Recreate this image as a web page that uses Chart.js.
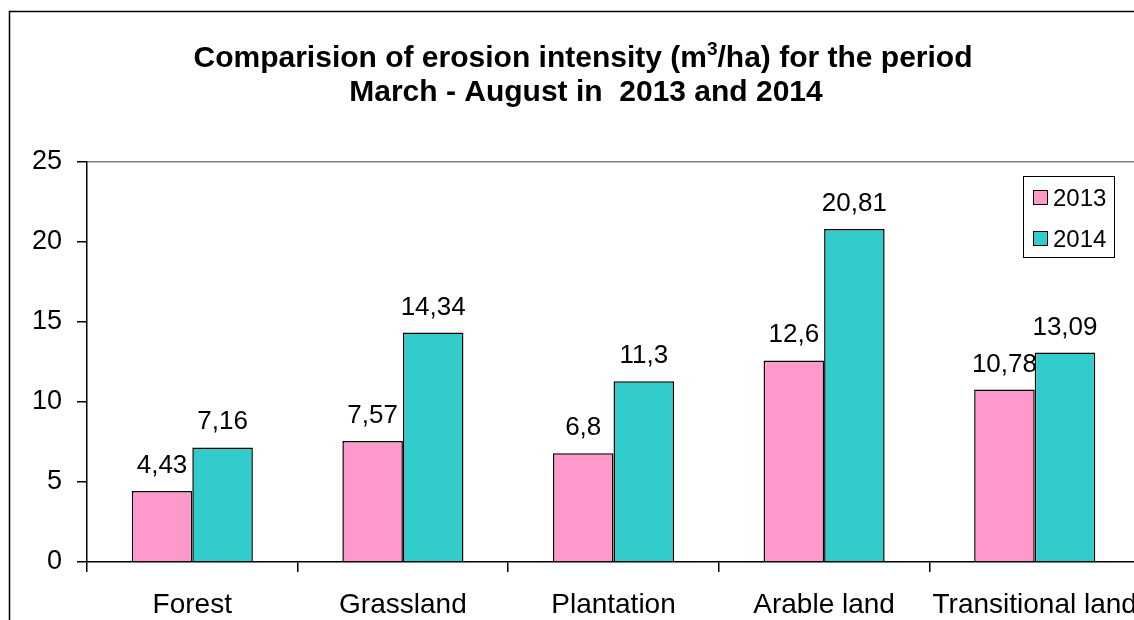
<!DOCTYPE html>
<html>
<head>
<meta charset="utf-8">
<script src="https://cdn.jsdelivr.net/npm/chart.js@4.4.1/dist/chart.umd.min.js"></script>
<style>
    html, body { margin: 0; padding: 0; background: #fff; overflow: hidden; }
    #wrap { position: absolute; left: 0; top: 0; width: 1170px; height: 640px; }
</style>
</head>
<body>
<div id="wrap"><canvas id="erosion_chart" width="1170" height="640"></canvas></div>
<script>
'use strict';

const categories = ['Forest', 'Grassland', 'Plantation', 'Arable land', 'Transitional land'];
const values_2013 = [4.43, 7.57, 6.8, 12.6, 10.78];
const values_2014 = [7.16, 14.34, 11.3, 20.81, 13.09];
const series_names = ['2013', '2014'];
const y_ticks = [0, 5, 10, 15, 20, 25];

const FONT = "'Liberation Sans', Arial, sans-serif";

function fmt_value(v) {
    return String(v).replace('.', ',');
}

// outer frame + title with superscript
const frame_and_title = {
    id: 'frame_and_title',
    beforeDraw(chart) {
        let ctx = chart.ctx;
        ctx.save();
        ctx.fillStyle = '#fff';
        ctx.fillRect(0, 0, chart.width, chart.height);
        ctx.strokeStyle = '#000';
        ctx.lineWidth = 1.5;
        ctx.strokeRect(9.5, 11.5, chart.width + 20, chart.height + 20);
        ctx.restore();
    },
    afterDraw(chart) {
        let ctx = chart.ctx;
        ctx.save();
        ctx.fillStyle = '#000';
        ctx.textBaseline = 'alphabetic';
        let big = 'bold 30px ' + FONT;
        let small = 'bold 19px ' + FONT;
        let p1 = 'Comparision of erosion intensity (m';
        let p2 = '3';
        let p3 = '/ha) for the period';
        ctx.font = big;
        let w1 = ctx.measureText(p1).width;
        let w3 = ctx.measureText(p3).width;
        ctx.font = small;
        let w2 = ctx.measureText(p2).width;
        let x = 583 - (w1 + w2 + w3) / 2;
        ctx.font = big;
        ctx.fillText(p1, x, 67);
        ctx.font = small;
        ctx.fillText(p2, x + w1, 55);
        ctx.font = big;
        ctx.fillText(p3, x + w1 + w2, 67);
        ctx.textAlign = 'center';
        ctx.fillText('March - August in  2013 and 2014', 586, 101);
        ctx.restore();
    }
};

// value labels above the bars
const bar_labels = {
    id: 'bar_labels',
    afterDatasetsDraw(chart) {
        let ctx = chart.ctx;
        ctx.save();
        ctx.font = '26px ' + FONT;
        ctx.fillStyle = '#000';
        ctx.textAlign = 'center';
        ctx.textBaseline = 'alphabetic';
        chart.data.datasets.forEach(function (ds, di) {
            let meta = chart.getDatasetMeta(di);
            meta.data.forEach(function (bar, i) {
                ctx.fillText(fmt_value(ds.data[i]), bar.x, bar.y - 18);
            });
        });
        ctx.restore();
    }
};

// boxed legend inside the plot area
const boxed_legend = {
    id: 'boxed_legend',
    afterDraw(chart) {
        let ctx = chart.ctx;
        ctx.save();
        ctx.strokeStyle = '#000';
        ctx.lineWidth = 1;
        ctx.fillStyle = '#fff';
        ctx.fillRect(1023.5, 176.5, 91, 81);
        ctx.strokeRect(1023.5, 176.5, 91, 81);
        ctx.font = '24px ' + FONT;
        ctx.textBaseline = 'middle';
        chart.data.datasets.forEach(function (ds, di) {
            let y = 198 + di * 41;
            ctx.fillStyle = ds.backgroundColor;
            ctx.fillRect(1033.5, y - 7.5, 14, 14);
            ctx.strokeRect(1033.5, y - 7.5, 14, 14);
            ctx.fillStyle = '#000';
            ctx.fillText(ds.label, 1053, y + 1);
        });
        ctx.restore();
    }
};

let canvas = document.getElementById('erosion_chart').getContext('2d');
let myChart = new Chart(canvas, {
    type: 'bar',
    data: {
        labels: categories,
        datasets: [
            {
                label: series_names[0],
                data: values_2013,
                backgroundColor: '#FF99CC',
                borderColor: '#000',
                borderWidth: 1.5,
            },
            {
                label: series_names[1],
                data: values_2014,
                backgroundColor: '#33CCCC',
                borderColor: '#000',
                borderWidth: 1.5,
            }
        ]
    },
    plugins: [frame_and_title, bar_labels, boxed_legend],
    options: {
        responsive: false,
        animation: false,
        events: [],
        layout: {
            padding: {top: 162, right: 30, left: 0, bottom: 0}
        },
        datasets: {
            bar: {
                categoryPercentage: 0.575,
                barPercentage: 1.0,
            }
        },
        plugins: {
            legend: {display: false},
            title: {display: false},
            tooltip: {enabled: false},
        },
        scales: {
            x: {
                grid: {
                    offset: true,
                    drawOnChartArea: false,
                    tickLength: 10,
                    tickColor: '#000',
                    lineWidth: 1.5,
                },
                border: {color: '#000', width: 1.5},
                ticks: {
                    color: '#000',
                    padding: 16,
                    maxRotation: 0,
                    autoSkip: false,
                    font: {family: FONT, size: 28}
                },
                afterFit: function (scale) {
                    scale.height = 640 - 562;
                }
            },
            y: {
                min: 0,
                max: 25,
                afterBuildTicks: function (scale) {
                    scale.ticks = y_ticks.map(function (v) { return {value: v}; });
                },
                grid: {
                    color: function (ctx) {
                        return ctx.tick && ctx.tick.value === 25 ? '#808080' : 'rgba(0,0,0,0)';
                    },
                    tickColor: '#000',
                    tickLength: 10,
                    lineWidth: 1.5,
                },
                border: {color: '#000', width: 1.5},
                ticks: {
                    color: '#000',
                    padding: 15,
                    font: {family: FONT, size: 27}
                },
                afterFit: function (scale) {
                    scale.width = 87;
                }
            }
        }
    }
});
</script>
</body>
</html>
